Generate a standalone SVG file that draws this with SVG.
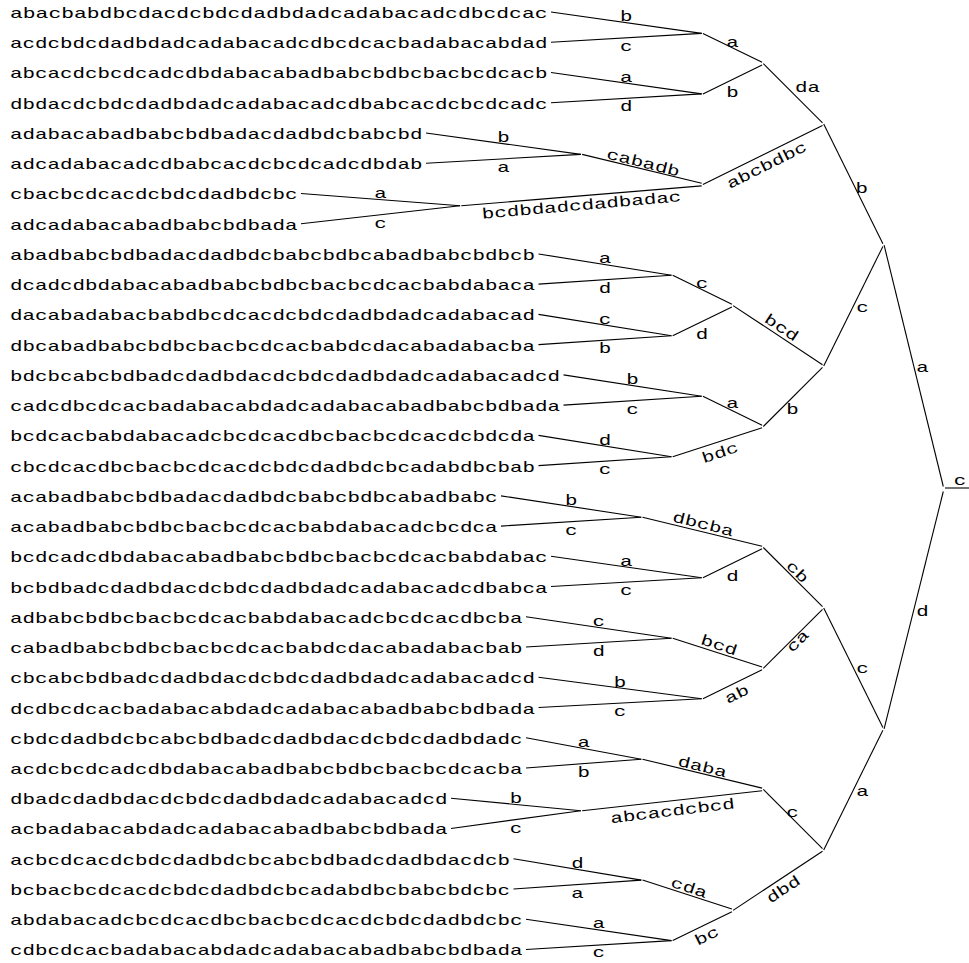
<svg xmlns="http://www.w3.org/2000/svg" width="969" height="963" viewBox="0 0 969 963">
<style>
text { font-family: "Liberation Mono", "DejaVu Sans Mono", monospace; font-size: 15px; fill: #000; }
.l { text-anchor: middle; }
line { stroke: #000; stroke-width: 1.1; }
</style>
<rect width="969" height="963" fill="#fff"/>
<g id="connectors">
<line x1="551" y1="12" x2="701.7" y2="33.4"/>
<line x1="551" y1="42.24" x2="701.7" y2="33.4"/>
<line x1="551" y1="72.48" x2="701.7" y2="93.9"/>
<line x1="551" y1="102.72" x2="701.7" y2="93.9"/>
<line x1="426" y1="132.96" x2="580.9" y2="154.4"/>
<line x1="426" y1="163.2" x2="580.9" y2="154.4"/>
<line x1="301" y1="193.44" x2="460.1" y2="205.7"/>
<line x1="301" y1="223.68" x2="460.1" y2="205.7"/>
<line x1="538.5" y1="253.92" x2="671.5" y2="275.3"/>
<line x1="538.5" y1="284.16" x2="671.5" y2="275.3"/>
<line x1="538.5" y1="314.4" x2="671.5" y2="335.8"/>
<line x1="538.5" y1="344.64" x2="671.5" y2="335.8"/>
<line x1="563.5" y1="374.88" x2="701.7" y2="396.3"/>
<line x1="563.5" y1="405.12" x2="701.7" y2="396.3"/>
<line x1="538.5" y1="435.36" x2="671.5" y2="456.8"/>
<line x1="538.5" y1="465.6" x2="671.5" y2="456.8"/>
<line x1="501" y1="495.84" x2="641.3" y2="517.2"/>
<line x1="501" y1="526.08" x2="641.3" y2="517.2"/>
<line x1="551" y1="556.32" x2="701.7" y2="577.7"/>
<line x1="551" y1="586.56" x2="701.7" y2="577.7"/>
<line x1="526" y1="616.8" x2="671.5" y2="638.2"/>
<line x1="526" y1="647.04" x2="671.5" y2="638.2"/>
<line x1="538.5" y1="677.28" x2="701.7" y2="698.7"/>
<line x1="538.5" y1="707.52" x2="701.7" y2="698.7"/>
<line x1="526" y1="737.76" x2="641.3" y2="759.2"/>
<line x1="526" y1="768" x2="641.3" y2="759.2"/>
<line x1="451" y1="798.24" x2="580.9" y2="810.7"/>
<line x1="451" y1="828.48" x2="580.9" y2="810.7"/>
<line x1="513.5" y1="858.72" x2="641.3" y2="880.1"/>
<line x1="513.5" y1="888.96" x2="641.3" y2="880.1"/>
<line x1="526" y1="919.2" x2="671.5" y2="940.6"/>
<line x1="526" y1="949.44" x2="671.5" y2="940.6"/>
<line x1="702.9" y1="33.4" x2="762.1" y2="62.3"/>
<line x1="702.9" y1="93.9" x2="762.1" y2="64.9"/>
<line x1="763.3" y1="63.6" x2="822.5" y2="122.8"/>
<line x1="582.1" y1="154.4" x2="701.7" y2="183.3"/>
<line x1="461.3" y1="205.7" x2="701.7" y2="185.9"/>
<line x1="702.9" y1="184.6" x2="822.5" y2="125.4"/>
<line x1="823.7" y1="124.1" x2="882.9" y2="243.8"/>
<line x1="672.7" y1="275.3" x2="731.9" y2="304.3"/>
<line x1="672.7" y1="335.8" x2="731.9" y2="306.9"/>
<line x1="733.1" y1="305.6" x2="822.5" y2="364.7"/>
<line x1="702.9" y1="396.3" x2="762.1" y2="425.2"/>
<line x1="672.7" y1="456.8" x2="762.1" y2="427.8"/>
<line x1="763.3" y1="426.5" x2="822.5" y2="367.3"/>
<line x1="823.7" y1="366" x2="882.9" y2="246.4"/>
<line x1="884.1" y1="245.1" x2="943.3" y2="486.5"/>
<line x1="642.5" y1="517.2" x2="762.1" y2="546.2"/>
<line x1="702.9" y1="577.7" x2="762.1" y2="548.8"/>
<line x1="763.3" y1="547.5" x2="822.5" y2="606.7"/>
<line x1="672.7" y1="638.2" x2="762.1" y2="667.1"/>
<line x1="702.9" y1="698.7" x2="762.1" y2="669.7"/>
<line x1="763.3" y1="668.4" x2="822.5" y2="609.3"/>
<line x1="823.7" y1="608" x2="882.9" y2="727.6"/>
<line x1="642.5" y1="759.2" x2="762.1" y2="788.1"/>
<line x1="582.1" y1="810.7" x2="762.1" y2="790.7"/>
<line x1="763.3" y1="789.4" x2="822.5" y2="848.6"/>
<line x1="642.5" y1="880.1" x2="731.9" y2="909.1"/>
<line x1="672.7" y1="940.6" x2="731.9" y2="911.7"/>
<line x1="733.1" y1="910.4" x2="822.5" y2="851.2"/>
<line x1="823.7" y1="849.9" x2="882.9" y2="730.2"/>
<line x1="884.1" y1="728.9" x2="943.3" y2="491.5"/>
<line x1="945" y1="488" x2="969" y2="488"/>
</g>
<g id="edge-labels">
<text class="l" x="626.35" y="21.2" textLength="12.5" lengthAdjust="spacingAndGlyphs">b</text>
<text class="l" x="626.35" y="50.8" textLength="12.5" lengthAdjust="spacingAndGlyphs">c</text>
<text class="l" x="626.35" y="81.7" textLength="12.5" lengthAdjust="spacingAndGlyphs">a</text>
<text class="l" x="626.35" y="111.3" textLength="12.5" lengthAdjust="spacingAndGlyphs">d</text>
<text class="l" x="503.45" y="142.2" textLength="12.5" lengthAdjust="spacingAndGlyphs">b</text>
<text class="l" x="503.45" y="171.8" textLength="12.5" lengthAdjust="spacingAndGlyphs">a</text>
<text class="l" x="380.55" y="198.1" textLength="12.5" lengthAdjust="spacingAndGlyphs">a</text>
<text class="l" x="380.55" y="227.7" textLength="12.5" lengthAdjust="spacingAndGlyphs">c</text>
<text class="l" x="605" y="263.1" textLength="12.5" lengthAdjust="spacingAndGlyphs">a</text>
<text class="l" x="605" y="292.7" textLength="12.5" lengthAdjust="spacingAndGlyphs">d</text>
<text class="l" x="605" y="323.6" textLength="12.5" lengthAdjust="spacingAndGlyphs">c</text>
<text class="l" x="605" y="353.2" textLength="12.5" lengthAdjust="spacingAndGlyphs">b</text>
<text class="l" x="632.6" y="384.1" textLength="12.5" lengthAdjust="spacingAndGlyphs">b</text>
<text class="l" x="632.6" y="413.7" textLength="12.5" lengthAdjust="spacingAndGlyphs">c</text>
<text class="l" x="605" y="444.6" textLength="12.5" lengthAdjust="spacingAndGlyphs">d</text>
<text class="l" x="605" y="474.2" textLength="12.5" lengthAdjust="spacingAndGlyphs">c</text>
<text class="l" x="571.15" y="505" textLength="12.5" lengthAdjust="spacingAndGlyphs">b</text>
<text class="l" x="571.15" y="534.6" textLength="12.5" lengthAdjust="spacingAndGlyphs">c</text>
<text class="l" x="626.35" y="565.5" textLength="12.5" lengthAdjust="spacingAndGlyphs">a</text>
<text class="l" x="626.35" y="595.1" textLength="12.5" lengthAdjust="spacingAndGlyphs">c</text>
<text class="l" x="598.75" y="626" textLength="12.5" lengthAdjust="spacingAndGlyphs">c</text>
<text class="l" x="598.75" y="655.6" textLength="12.5" lengthAdjust="spacingAndGlyphs">d</text>
<text class="l" x="620.1" y="686.5" textLength="12.5" lengthAdjust="spacingAndGlyphs">b</text>
<text class="l" x="620.1" y="716.1" textLength="12.5" lengthAdjust="spacingAndGlyphs">c</text>
<text class="l" x="583.65" y="747" textLength="12.5" lengthAdjust="spacingAndGlyphs">a</text>
<text class="l" x="583.65" y="776.6" textLength="12.5" lengthAdjust="spacingAndGlyphs">b</text>
<text class="l" x="515.95" y="803" textLength="12.5" lengthAdjust="spacingAndGlyphs">b</text>
<text class="l" x="515.95" y="832.6" textLength="12.5" lengthAdjust="spacingAndGlyphs">c</text>
<text class="l" x="577.4" y="867.9" textLength="12.5" lengthAdjust="spacingAndGlyphs">d</text>
<text class="l" x="577.4" y="897.5" textLength="12.5" lengthAdjust="spacingAndGlyphs">a</text>
<text class="l" x="598.75" y="928.4" textLength="12.5" lengthAdjust="spacingAndGlyphs">a</text>
<text class="l" x="598.75" y="957" textLength="12.5" lengthAdjust="spacingAndGlyphs">c</text>
<text class="l" x="732.5" y="46.7" textLength="12.5" lengthAdjust="spacingAndGlyphs">a</text>
<text class="l" x="732.5" y="96.5" textLength="12.5" lengthAdjust="spacingAndGlyphs">b</text>
<text class="l" x="807.5" y="91.5" textLength="25" lengthAdjust="spacingAndGlyphs">da</text>
<text class="l" x="861.7" y="193" textLength="12.5" lengthAdjust="spacingAndGlyphs">b</text>
<text class="l" x="702" y="288.3" textLength="12.5" lengthAdjust="spacingAndGlyphs">c</text>
<text class="l" x="702" y="338.5" textLength="12.5" lengthAdjust="spacingAndGlyphs">d</text>
<text class="l" x="732.5" y="408.3" textLength="12.5" lengthAdjust="spacingAndGlyphs">a</text>
<text class="l" x="792.5" y="414" textLength="12.5" lengthAdjust="spacingAndGlyphs">b</text>
<text class="l" x="862.5" y="311.7" textLength="12.5" lengthAdjust="spacingAndGlyphs">c</text>
<text class="l" x="922.5" y="371.7" textLength="12.5" lengthAdjust="spacingAndGlyphs">a</text>
<text class="l" x="960" y="485" textLength="12.5" lengthAdjust="spacingAndGlyphs">c</text>
<text class="l" x="732.5" y="580.5" textLength="12.5" lengthAdjust="spacingAndGlyphs">d</text>
<text class="l" x="862.5" y="673.3" textLength="12.5" lengthAdjust="spacingAndGlyphs">c</text>
<text class="l" x="792.5" y="816.7" textLength="12.5" lengthAdjust="spacingAndGlyphs">c</text>
<text class="l" x="862.5" y="796" textLength="12.5" lengthAdjust="spacingAndGlyphs">a</text>
<text class="l" x="922.5" y="616" textLength="12.5" lengthAdjust="spacingAndGlyphs">d</text>
<text class="l" x="643.3" y="167.5" transform="rotate(14.04 643.3 162.5)" textLength="75" lengthAdjust="spacingAndGlyphs">cabadb</text>
<text class="l" x="581.5" y="210" transform="rotate(-5.04 581.5 205)" textLength="200" lengthAdjust="spacingAndGlyphs">bcdbdadcdadbadac</text>
<text class="l" x="766.7" y="170" transform="rotate(-26.57 766.7 165)" textLength="87.5" lengthAdjust="spacingAndGlyphs">abcbdbc</text>
<text class="l" x="781.7" y="332.5" transform="rotate(33.69 781.7 327.5)" textLength="37.5" lengthAdjust="spacingAndGlyphs">bcd</text>
<text class="l" x="720" y="457.5" transform="rotate(-18.43 720 452.5)" textLength="37.5" lengthAdjust="spacingAndGlyphs">bdc</text>
<text class="l" x="703.3" y="529" transform="rotate(14.04 703.3 524)" textLength="62.5" lengthAdjust="spacingAndGlyphs">dbcba</text>
<text class="l" x="797.5" y="576.7" transform="rotate(45 797.5 571.7)" textLength="25" lengthAdjust="spacingAndGlyphs">cb</text>
<text class="l" x="719.2" y="650" transform="rotate(18.43 719.2 645)" textLength="37.5" lengthAdjust="spacingAndGlyphs">bcd</text>
<text class="l" x="736.7" y="699" transform="rotate(-26.57 736.7 694)" textLength="25" lengthAdjust="spacingAndGlyphs">ab</text>
<text class="l" x="798.3" y="645.7" transform="rotate(-45 798.3 641.7)" textLength="25" lengthAdjust="spacingAndGlyphs">ca</text>
<text class="l" x="702.5" y="771.7" transform="rotate(14.04 702.5 766.7)" textLength="50" lengthAdjust="spacingAndGlyphs">daba</text>
<text class="l" x="672.5" y="815.8" transform="rotate(-6.83 672.5 810.8)" textLength="125" lengthAdjust="spacingAndGlyphs">abcacdcbcd</text>
<text class="l" x="689.2" y="892.5" transform="rotate(18.43 689.2 887.5)" textLength="37.5" lengthAdjust="spacingAndGlyphs">cda</text>
<text class="l" x="706.7" y="940.8" transform="rotate(-26.57 706.7 935.8)" textLength="25" lengthAdjust="spacingAndGlyphs">bc</text>
<text class="l" x="783.3" y="894.2" transform="rotate(-33.69 783.3 889.2)" textLength="37.5" lengthAdjust="spacingAndGlyphs">dbd</text>
</g>
<g id="leaf1"><text x="10" y="18" textLength="537.5" lengthAdjust="spacingAndGlyphs">abacbabdbcdacdcbdcdadbdadcadabacadcdbcdcac</text></g>
<g id="leaf2"><text x="10" y="48.24" textLength="537.5" lengthAdjust="spacingAndGlyphs">acdcbdcdadbdadcadabacadcdbcdcacbadabacabdad</text></g>
<g id="leaf3"><text x="10" y="78.48" textLength="537.5" lengthAdjust="spacingAndGlyphs">abcacdcbcdcadcdbdabacabadbabcbdbcbacbcdcacb</text></g>
<g id="leaf4"><text x="10" y="108.72" textLength="537.5" lengthAdjust="spacingAndGlyphs">dbdacdcbdcdadbdadcadabacadcdbabcacdcbcdcadc</text></g>
<g id="leaf5"><text x="10" y="138.96" textLength="412.5" lengthAdjust="spacingAndGlyphs">adabacabadbabcbdbadacdadbdcbabcbd</text></g>
<g id="leaf6"><text x="10" y="169.2" textLength="412.5" lengthAdjust="spacingAndGlyphs">adcadabacadcdbabcacdcbcdcadcdbdab</text></g>
<g id="leaf7"><text x="10" y="199.44" textLength="287.5" lengthAdjust="spacingAndGlyphs">cbacbcdcacdcbdcdadbdcbc</text></g>
<g id="leaf8"><text x="10" y="229.68" textLength="287.5" lengthAdjust="spacingAndGlyphs">adcadabacabadbabcbdbada</text></g>
<g id="leaf9"><text x="10" y="259.92" textLength="525" lengthAdjust="spacingAndGlyphs">abadbabcbdbadacdadbdcbabcbdbcabadbabcbdbcb</text></g>
<g id="leaf10"><text x="10" y="290.16" textLength="525" lengthAdjust="spacingAndGlyphs">dcadcdbdabacabadbabcbdbcbacbcdcacbabdabaca</text></g>
<g id="leaf11"><text x="10" y="320.4" textLength="525" lengthAdjust="spacingAndGlyphs">dacabadabacbabdbcdcacdcbdcdadbdadcadabacad</text></g>
<g id="leaf12"><text x="10" y="350.64" textLength="525" lengthAdjust="spacingAndGlyphs">dbcabadbabcbdbcbacbcdcacbabdcdacabadabacba</text></g>
<g id="leaf13"><text x="10" y="380.88" textLength="550" lengthAdjust="spacingAndGlyphs">bdcbcabcbdbadcdadbdacdcbdcdadbdadcadabacadcd</text></g>
<g id="leaf14"><text x="10" y="411.12" textLength="550" lengthAdjust="spacingAndGlyphs">cadcdbcdcacbadabacabdadcadabacabadbabcbdbada</text></g>
<g id="leaf15"><text x="10" y="441.36" textLength="525" lengthAdjust="spacingAndGlyphs">bcdcacbabdabacadcbcdcacdbcbacbcdcacdcbdcda</text></g>
<g id="leaf16"><text x="10" y="471.6" textLength="525" lengthAdjust="spacingAndGlyphs">cbcdcacdbcbacbcdcacdcbdcdadbdcbcadabdbcbab</text></g>
<g id="leaf17"><text x="10" y="501.84" textLength="487.5" lengthAdjust="spacingAndGlyphs">acabadbabcbdbadacdadbdcbabcbdbcabadbabc</text></g>
<g id="leaf18"><text x="10" y="532.08" textLength="487.5" lengthAdjust="spacingAndGlyphs">acabadbabcbdbcbacbcdcacbabdabacadcbcdca</text></g>
<g id="leaf19"><text x="10" y="562.32" textLength="537.5" lengthAdjust="spacingAndGlyphs">bcdcadcdbdabacabadbabcbdbcbacbcdcacbabdabac</text></g>
<g id="leaf20"><text x="10" y="592.56" textLength="537.5" lengthAdjust="spacingAndGlyphs">bcbdbadcdadbdacdcbdcdadbdadcadabacadcdbabca</text></g>
<g id="leaf21"><text x="10" y="622.8" textLength="512.5" lengthAdjust="spacingAndGlyphs">adbabcbdbcbacbcdcacbabdabacadcbcdcacdbcba</text></g>
<g id="leaf22"><text x="10" y="653.04" textLength="512.5" lengthAdjust="spacingAndGlyphs">cabadbabcbdbcbacbcdcacbabdcdacabadabacbab</text></g>
<g id="leaf23"><text x="10" y="683.28" textLength="525" lengthAdjust="spacingAndGlyphs">cbcabcbdbadcdadbdacdcbdcdadbdadcadabacadcd</text></g>
<g id="leaf24"><text x="10" y="713.52" textLength="525" lengthAdjust="spacingAndGlyphs">dcdbcdcacbadabacabdadcadabacabadbabcbdbada</text></g>
<g id="leaf25"><text x="10" y="743.76" textLength="512.5" lengthAdjust="spacingAndGlyphs">cbdcdadbdcbcabcbdbadcdadbdacdcbdcdadbdadc</text></g>
<g id="leaf26"><text x="10" y="774" textLength="512.5" lengthAdjust="spacingAndGlyphs">acdcbcdcadcdbdabacabadbabcbdbcbacbcdcacba</text></g>
<g id="leaf27"><text x="10" y="804.24" textLength="437.5" lengthAdjust="spacingAndGlyphs">dbadcdadbdacdcbdcdadbdadcadabacadcd</text></g>
<g id="leaf28"><text x="10" y="834.48" textLength="437.5" lengthAdjust="spacingAndGlyphs">acbadabacabdadcadabacabadbabcbdbada</text></g>
<g id="leaf29"><text x="10" y="864.72" textLength="500" lengthAdjust="spacingAndGlyphs">acbcdcacdcbdcdadbdcbcabcbdbadcdadbdacdcb</text></g>
<g id="leaf30"><text x="10" y="894.96" textLength="500" lengthAdjust="spacingAndGlyphs">bcbacbcdcacdcbdcdadbdcbcadabdbcbabcbdcbc</text></g>
<g id="leaf31"><text x="10" y="925.2" textLength="512.5" lengthAdjust="spacingAndGlyphs">abdabacadcbcdcacdbcbacbcdcacdcbdcdadbdcbc</text></g>
<g id="leaf32"><text x="10" y="955.44" textLength="512.5" lengthAdjust="spacingAndGlyphs">cdbcdcacbadabacabdadcadabacabadbabcbdbada</text></g>
</svg>
